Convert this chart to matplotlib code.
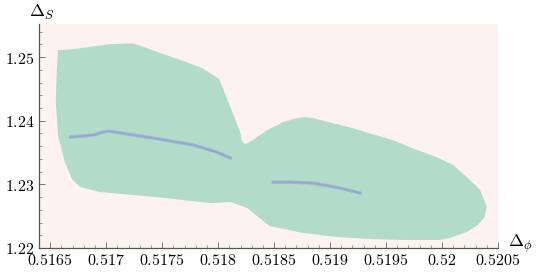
import matplotlib
matplotlib.use("Agg")
import matplotlib.pyplot as plt
from matplotlib.ticker import MultipleLocator, FixedLocator

plt.rcParams['mathtext.fontset'] = 'cm'
plt.rcParams['font.family'] = ['DejaVu Serif']

# Allowed region outline (Delta_phi, Delta_S)
region_x = [0.51657, 0.51670, 0.51703, 0.51724, 0.51754, 0.51772, 0.51786, 0.51801,
            0.51812, 0.51820, 0.51821, 0.51824, 0.51828, 0.51844, 0.51858, 0.51867,
            0.51876, 0.51885, 0.51920, 0.51956, 0.51978, 0.51995, 0.52010, 0.52022,
            0.52034, 0.52040, 0.52038, 0.52032, 0.52022, 0.52007, 0.51998, 0.51965,
            0.51936, 0.51906, 0.51876, 0.51846, 0.51837, 0.51826, 0.51811, 0.51795,
            0.51784, 0.51754, 0.51724, 0.51695, 0.51677, 0.51670, 0.51663, 0.51657,
            0.51655, 0.51656]
region_y = [1.25108, 1.25124, 1.25203, 1.25218, 1.25030, 1.24920, 1.24826, 1.24653,
            1.24166, 1.23805, 1.23695, 1.23633, 1.23664, 1.23852, 1.23978, 1.24025,
            1.24057, 1.24041, 1.23884, 1.23695, 1.23538, 1.23429, 1.23303, 1.23115,
            1.22911, 1.22644, 1.22487, 1.22361, 1.22251, 1.22157, 1.22126, 1.22126,
            1.22141, 1.22173, 1.22235, 1.22345, 1.22471, 1.22628, 1.22722, 1.22706,
            1.22722, 1.22785, 1.22832, 1.22879, 1.22958, 1.23068, 1.23350, 1.23774,
            1.24292, 1.24826]

# Curves
line1_x = [0.51668, 0.51688, 0.51697, 0.51702, 0.51719, 0.51748, 0.51778, 0.51799, 0.51811]
line1_y = [1.23743, 1.23774, 1.23821, 1.23837, 1.23790, 1.23711, 1.23617, 1.23507, 1.23413]
line2_x = [0.51849, 0.51864, 0.51885, 0.51909, 0.51927]
line2_y = [1.23036, 1.23036, 1.23020, 1.22942, 1.22863]

xticks = [0.5165, 0.517, 0.5175, 0.518, 0.5185, 0.519, 0.5195, 0.52, 0.5205]
xticklabels = ['0.5165', '0.517', '0.5175', '0.518', '0.5185', '0.519', '0.5195', '0.52', '0.5205']
yticks = [1.22, 1.23, 1.24, 1.25]
yticklabels = ['1.22', '1.23', '1.24', '1.25']

fig = plt.figure(figsize=(5.37, 2.73), dpi=100)
ax = fig.add_axes([0.0726, 0.0916, 0.8548, 0.8204])
ax.set_facecolor('#fdf2ee')

ax.fill(region_x, region_y, color='#b2dbc8', lw=0, zorder=2)
for lx, ly in [(line1_x, line1_y), (line2_x, line2_y)]:
    ax.plot(lx, ly, color='#9cb0d3', lw=2.4, solid_capstyle='round', zorder=3, alpha=0.9)
    ax.plot(lx, ly, color='#8da3cc', lw=0.8, zorder=4, alpha=0.8)

ax.set_xlim(0.5164, 0.5205)
ax.set_ylim(1.22, 1.2552)

ax.xaxis.set_major_locator(FixedLocator(xticks))
ax.set_xticklabels(['$' + t + '$' for t in xticklabels])
ax.xaxis.set_minor_locator(MultipleLocator(0.0001))
ax.yaxis.set_major_locator(FixedLocator(yticks))
ax.set_yticklabels(['$' + t + '$' for t in yticklabels])
ax.yaxis.set_minor_locator(MultipleLocator(0.002))

for s in ['top', 'right']:
    ax.spines[s].set_visible(False)
for s in ['left', 'bottom']:
    ax.spines[s].set_color('#555555')
    ax.spines[s].set_linewidth(0.9)

ax.tick_params(which='both', direction='in', color='#777777', labelsize=11.5, pad=3)
ax.tick_params(which='major', length=4, width=0.7)
ax.tick_params(which='minor', length=2.5, width=0.5)

fig.text(508 / 537, 1 - 244 / 273, r'$\Delta_\phi$', fontsize=13, ha='left', va='center')
fig.text(29 / 537, 1 - 3 / 273, r'$\Delta_S$', fontsize=13, ha='left', va='top')

fig.savefig('out.png', dpi=100)
